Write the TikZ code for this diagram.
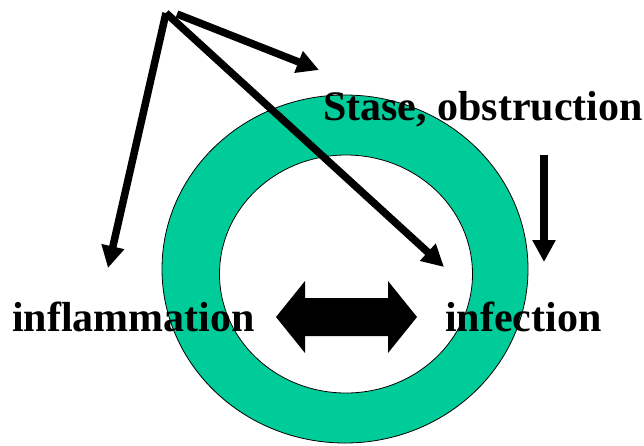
\documentclass[tikz,border=0pt]{standalone}
\usepackage{fontspec}
\setmainfont{Liberation Serif}
\usetikzlibrary{arrows.meta}

\definecolor{ringgreen}{RGB}{0,204,153}

\begin{document}
\begin{tikzpicture}[x=1pt,y=-1pt, every node/.style={font=\bfseries\fontsize{42}{48}\selectfont, inner sep=0pt},
        bigarrow/.style={line width=7.5pt, -{Triangle[length=22pt,width=22pt]}}]
            \useasboundingbox (0,0) rectangle (644,445);

            \fill[ringgreen, draw=black, line width=0.8pt] (345,269) ellipse [x radius=183, y radius=174];
            \fill[white, draw=black, line width=0.8pt] (346,274) ellipse [x radius=126.5, y radius=119];

            \node[anchor=base west] (stase) at (323,120) {Stase, obstruction};
            \node[anchor=base west] (inflam) at (12,331) {inflammation};
            \node[anchor=base west] (infect) at (445,331) {infection};

            \coordinate (apex) at (166,13);
            \coordinate (apexr) at (177,14);
            \coordinate (inflamtip) at (108,268);
            \coordinate (stasetip) at (319,70);
            \coordinate (infecttip) at (444,267);
            \coordinate (downtop) at (544,155);
            \coordinate (downtip) at (544,262);

            \draw[bigarrow] (apex) -- (inflamtip);
            \draw[bigarrow] (apexr) -- (stasetip);
            \draw[bigarrow] (apex) -- (infecttip);
            \draw[bigarrow] (downtop) -- (downtip);

            \fill[black] (276,317) -- (305,281) -- (305,298) -- (388,298) -- (388,281) -- (417,317)
                -- (388,353) -- (388,336) -- (305,336) -- (305,353) -- cycle;
        \end{tikzpicture}
\end{document}
